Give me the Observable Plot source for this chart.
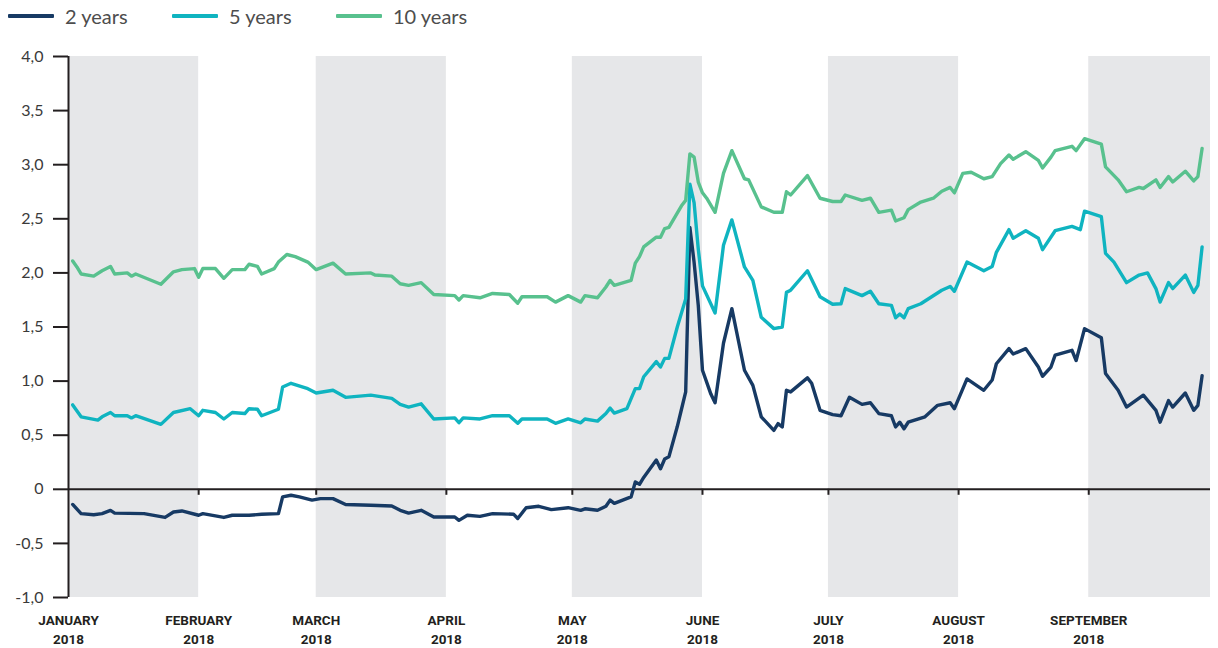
<!DOCTYPE html>
<html>
<head>
<meta charset="utf-8">
<script src="https://cdn.jsdelivr.net/npm/d3@7"></script>
<script src="https://cdn.jsdelivr.net/npm/@observablehq/plot@0.6"></script>
<style>
  body { margin: 0; background: #fff; font-family: Lato, "Open Sans", sans-serif; }
  #legend { position: relative; width: 1218px; height: 32px; }
  .item { position: absolute; top: 0; height: 32px; display: flex; align-items: center; font-size: 20px; color: #4d4d4d; white-space: nowrap; }
  .sw { width: 46px; height: 4px; margin-right: 11px; border-radius: 1px; }
  #chart svg { display: block; }
</style>
</head>
<body>
<div id="legend"></div>
<div id="chart"></div>
<script>
// ---- series ----
const seriesNames = ["2 years", "5 years", "10 years"];
const seriesColors = ["#173a64", "#0fb4c0", "#58c18e"];

const dates2 = ["2018-01-02","2018-01-04","2018-01-07","2018-01-09","2018-01-11","2018-01-12","2018-01-19","2018-01-24","2018-01-26","2018-01-28",
"2018-02-01","2018-02-02","2018-02-07","2018-02-09","2018-02-13","2018-02-16","2018-02-20","2018-02-21","2018-02-23","2018-02-25","2018-02-28",
"2018-03-02","2018-03-05","2018-03-08","2018-03-14","2018-03-19","2018-03-21","2018-03-23","2018-03-26","2018-03-29",
"2018-04-03","2018-04-04","2018-04-06","2018-04-09","2018-04-12","2018-04-17","2018-04-18","2018-04-20","2018-04-23","2018-04-26","2018-04-30",
"2018-05-03","2018-05-04","2018-05-07","2018-05-09","2018-05-10","2018-05-11","2018-05-15","2018-05-16","2018-05-17","2018-05-18","2018-05-21","2018-05-22","2018-05-23","2018-05-24","2018-05-26","2018-05-27","2018-05-28","2018-05-29","2018-05-30","2018-05-31",
"2018-06-01","2018-06-03","2018-06-04","2018-06-06","2018-06-08","2018-06-11","2018-06-13","2018-06-15","2018-06-18","2018-06-19","2018-06-20","2018-06-21","2018-06-22","2018-06-26","2018-06-27","2018-06-29",
"2018-07-02","2018-07-04","2018-07-06","2018-07-09","2018-07-11","2018-07-13","2018-07-16","2018-07-17","2018-07-18","2018-07-19","2018-07-20","2018-07-24","2018-07-27","2018-07-30","2018-07-31",
"2018-08-03","2018-08-07","2018-08-09","2018-08-10","2018-08-13","2018-08-14","2018-08-17","2018-08-20","2018-08-21","2018-08-23","2018-08-24","2018-08-28","2018-08-29","2018-08-31",
"2018-09-04","2018-09-05","2018-09-08","2018-09-10","2018-09-14","2018-09-17","2018-09-18","2018-09-20","2018-09-21","2018-09-24","2018-09-26","2018-09-27","2018-09-28"];
const values2 = [-0.14,-0.225,-0.235,-0.225,-0.195,-0.22,-0.225,-0.26,-0.21,-0.20,
-0.24,-0.225,-0.26,-0.24,-0.24,-0.23,-0.225,-0.07,-0.055,-0.07,-0.10,
-0.086,-0.086,-0.14,-0.148,-0.154,-0.194,-0.22,-0.194,-0.256,
-0.256,-0.287,-0.24,-0.25,-0.225,-0.23,-0.27,-0.17,-0.157,-0.188,-0.17,
-0.194,-0.18,-0.194,-0.157,-0.10,-0.13,-0.07,0.068,0.046,0.11,0.27,0.19,0.28,0.30,0.58,0.74,0.90,2.42,2.10,1.70,
1.10,0.88,0.80,1.35,1.67,1.10,0.96,0.67,0.545,0.607,0.576,0.915,0.90,1.03,0.98,0.73,
0.69,0.68,0.85,0.785,0.80,0.70,0.68,0.576,0.62,0.56,0.62,0.67,0.776,0.80,0.745,
1.02,0.915,1.01,1.16,1.30,1.25,1.30,1.13,1.045,1.13,1.24,1.285,1.19,1.485,
1.40,1.07,0.915,0.76,0.87,0.73,0.62,0.82,0.76,0.89,0.73,0.776,1.05];

const dates5 = ["2018-01-02","2018-01-04","2018-01-08","2018-01-09","2018-01-11","2018-01-12","2018-01-15","2018-01-16","2018-01-17","2018-01-23","2018-01-26","2018-01-30",
"2018-02-01","2018-02-02","2018-02-05","2018-02-07","2018-02-09","2018-02-12","2018-02-13","2018-02-15","2018-02-16","2018-02-20","2018-02-21","2018-02-23","2018-02-27",
"2018-03-01","2018-03-05","2018-03-08","2018-03-14","2018-03-19","2018-03-21","2018-03-23","2018-03-26","2018-03-29",
"2018-04-03","2018-04-04","2018-04-05","2018-04-09","2018-04-12","2018-04-16","2018-04-18","2018-04-19","2018-04-25","2018-04-27","2018-04-30",
"2018-05-03","2018-05-04","2018-05-07","2018-05-09","2018-05-10","2018-05-11","2018-05-14","2018-05-16","2018-05-17","2018-05-18","2018-05-21","2018-05-22","2018-05-23","2018-05-24","2018-05-26","2018-05-28","2018-05-29","2018-05-30","2018-05-31",
"2018-06-01","2018-06-04","2018-06-06","2018-06-08","2018-06-11","2018-06-13","2018-06-15","2018-06-18","2018-06-20","2018-06-21","2018-06-22","2018-06-26","2018-06-29",
"2018-07-02","2018-07-04","2018-07-05","2018-07-09","2018-07-11","2018-07-13","2018-07-16","2018-07-17","2018-07-18","2018-07-19","2018-07-20","2018-07-23","2018-07-28","2018-07-30","2018-07-31",
"2018-08-03","2018-08-07","2018-08-09","2018-08-10","2018-08-13","2018-08-14","2018-08-17","2018-08-20","2018-08-21","2018-08-24","2018-08-28","2018-08-30","2018-08-31",
"2018-09-04","2018-09-05","2018-09-07","2018-09-10","2018-09-13","2018-09-15","2018-09-17","2018-09-18","2018-09-20","2018-09-21","2018-09-24","2018-09-26","2018-09-27","2018-09-28"];
const values5 = [0.78,0.67,0.64,0.67,0.71,0.68,0.68,0.66,0.68,0.60,0.71,0.745,
0.68,0.73,0.71,0.65,0.71,0.70,0.745,0.74,0.68,0.74,0.945,0.98,0.93,
0.89,0.915,0.85,0.87,0.84,0.785,0.76,0.79,0.65,
0.66,0.615,0.66,0.65,0.68,0.68,0.61,0.65,0.65,0.61,0.65,
0.615,0.65,0.63,0.70,0.75,0.705,0.745,0.93,0.93,1.04,1.18,1.13,1.21,1.21,1.50,1.76,2.82,2.65,2.22,
1.88,1.63,2.255,2.49,2.055,1.93,1.59,1.485,1.50,1.82,1.84,2.02,1.78,
1.71,1.715,1.855,1.79,1.83,1.715,1.70,1.585,1.62,1.585,1.67,1.715,1.84,1.875,1.83,
2.10,2.02,2.06,2.19,2.40,2.32,2.39,2.32,2.215,2.39,2.43,2.40,2.57,
2.52,2.18,2.10,1.91,1.98,2.00,1.855,1.73,1.91,1.855,1.98,1.82,1.885,2.24];

const dates10 = ["2018-01-02","2018-01-03","2018-01-04","2018-01-07","2018-01-09","2018-01-11","2018-01-12","2018-01-15","2018-01-16","2018-01-17","2018-01-23","2018-01-26","2018-01-28","2018-01-31",
"2018-02-01","2018-02-02","2018-02-05","2018-02-07","2018-02-09","2018-02-12","2018-02-13","2018-02-15","2018-02-16","2018-02-19","2018-02-20","2018-02-22","2018-02-24","2018-02-27",
"2018-03-01","2018-03-05","2018-03-08","2018-03-14","2018-03-15","2018-03-19","2018-03-21","2018-03-23","2018-03-26","2018-03-29",
"2018-04-03","2018-04-04","2018-04-05","2018-04-09","2018-04-12","2018-04-16","2018-04-18","2018-04-19","2018-04-25","2018-04-27","2018-04-30",
"2018-05-03","2018-05-04","2018-05-07","2018-05-09","2018-05-10","2018-05-11","2018-05-15","2018-05-16","2018-05-17","2018-05-18","2018-05-21","2018-05-22","2018-05-23","2018-05-24","2018-05-27","2018-05-28","2018-05-29","2018-05-30","2018-05-31",
"2018-06-01","2018-06-02","2018-06-04","2018-06-06","2018-06-08","2018-06-11","2018-06-12","2018-06-15","2018-06-18","2018-06-20","2018-06-21","2018-06-22","2018-06-26","2018-06-29",
"2018-07-02","2018-07-04","2018-07-05","2018-07-09","2018-07-11","2018-07-13","2018-07-16","2018-07-17","2018-07-19","2018-07-20","2018-07-23","2018-07-26","2018-07-28","2018-07-30","2018-07-31",
"2018-08-02","2018-08-04","2018-08-07","2018-08-09","2018-08-11","2018-08-13","2018-08-14","2018-08-17","2018-08-20","2018-08-21","2018-08-23","2018-08-24","2018-08-28","2018-08-29","2018-08-31",
"2018-09-04","2018-09-05","2018-09-08","2018-09-10","2018-09-13","2018-09-14","2018-09-17","2018-09-18","2018-09-20","2018-09-21","2018-09-24","2018-09-26","2018-09-27","2018-09-28"];
const values10 = [2.11,2.055,1.99,1.97,2.02,2.06,1.99,2.00,1.97,1.99,1.895,2.01,2.03,2.04,
1.96,2.04,2.04,1.95,2.03,2.03,2.08,2.06,1.99,2.04,2.10,2.17,2.15,2.10,
2.03,2.09,1.99,2.00,1.98,1.97,1.90,1.885,1.91,1.80,
1.79,1.75,1.79,1.77,1.81,1.80,1.72,1.78,1.78,1.73,1.79,
1.73,1.79,1.77,1.87,1.93,1.885,1.93,2.09,2.15,2.24,2.33,2.33,2.41,2.42,2.62,2.67,3.10,3.07,2.84,
2.74,2.69,2.56,2.92,3.13,2.87,2.86,2.61,2.56,2.56,2.75,2.72,2.90,2.69,
2.66,2.66,2.72,2.67,2.69,2.56,2.58,2.48,2.51,2.585,2.655,2.69,2.755,2.79,2.74,
2.92,2.93,2.87,2.89,3.01,3.09,3.05,3.12,3.04,2.97,3.07,3.13,3.17,3.13,3.24,
3.19,2.98,2.86,2.75,2.79,2.78,2.86,2.79,2.89,2.84,2.94,2.85,2.89,3.15];

// ---- axes ----
const monthStarts = ["2018-01-01","2018-02-01","2018-03-01","2018-04-01","2018-05-01","2018-06-01","2018-07-01","2018-08-01","2018-09-01"];
const monthLabels = ["JANUARY","FEBRUARY","MARCH","APRIL","MAY","JUNE","JULY","AUGUST","SEPTEMBER"];
const yearLabel = "2018";
const shadedStarts = ["2018-01-01","2018-03-01","2018-05-01","2018-07-01","2018-09-01"];
const shadedEnds   = ["2018-02-01","2018-04-01","2018-06-01","2018-08-01","2018-09-30"];
const xDomain = ["2018-01-01","2018-09-30"];
const yTicks = [-1,-0.5,0,0.5,1,1.5,2,2.5,3,3.5,4];

// ---- build ----
const P = s => new Date(s + "T00:00:00Z");
const mk = (ds, vs) => ds.map((d, i) => ({date: P(d), value: vs[i]}));
const series = [mk(dates2, values2), mk(dates5, values5), mk(dates10, values10)];
const bands = shadedStarts.map((s, i) => ({start: P(s), end: P(shadedEnds[i])}));
const months = monthStarts.map(P);
const fmt = v => v === 0 ? "0" : v.toFixed(1).replace(".", ",");
const ink = "#231f20";

const legend = document.getElementById("legend");
const lefts = [8, 172, 336];
seriesNames.forEach((n, i) => {
  const it = document.createElement("div");
  it.className = "item";
  it.style.left = lefts[i] + "px";
  it.innerHTML = `<span class="sw" style="background:${seriesColors[i]}"></span><span>${n}</span>`;
  legend.appendChild(it);
});

const chart = Plot.plot({
  width: 1218,
  height: 616,
  marginTop: 24,
  marginBottom: 51,
  marginLeft: 68,
  marginRight: 8,
  x: {type: "utc", domain: xDomain.map(P)},
  y: {domain: [-1, 4]},
  style: {fontFamily: "Lato, sans-serif", background: "white", color: "#3a3a3a"},
  marks: [
    Plot.rect(bands, {x1: "start", x2: "end", fill: "#e6e7e9"}),
    Plot.ruleY([0], {stroke: ink, strokeWidth: 2}),
    Plot.ruleX(months.slice(1), {x: d => d, y1: 0, y2: 0, insetBottom: -6, stroke: ink, strokeWidth: 2}),
    Plot.ruleX([months[0]], {stroke: ink, strokeWidth: 2}),
    ...series.map((s, i) => Plot.line(s, {x: "date", y: "value", stroke: seriesColors[i], strokeWidth: 3.4, strokeLinejoin: "round"})),
    Plot.axisY({ticks: yTicks, tickSize: 15, tickPadding: 10, tickFormat: fmt, fontSize: 16, stroke: ink, strokeWidth: 2, label: null, fill: "#3a3a3a"}),
    Plot.axisX({ticks: months, tickSize: 0, tickPadding: 14, label: null,
      tickFormat: d => monthLabels[d.getUTCMonth()] + "\n" + yearLabel,
      fontSize: 13.5, fontWeight: "bold", fontFamily: "Roboto, sans-serif", lineHeight: 1.4, fill: ink})
  ]
});
document.getElementById("chart").appendChild(chart);
</script>
</body>
</html>
